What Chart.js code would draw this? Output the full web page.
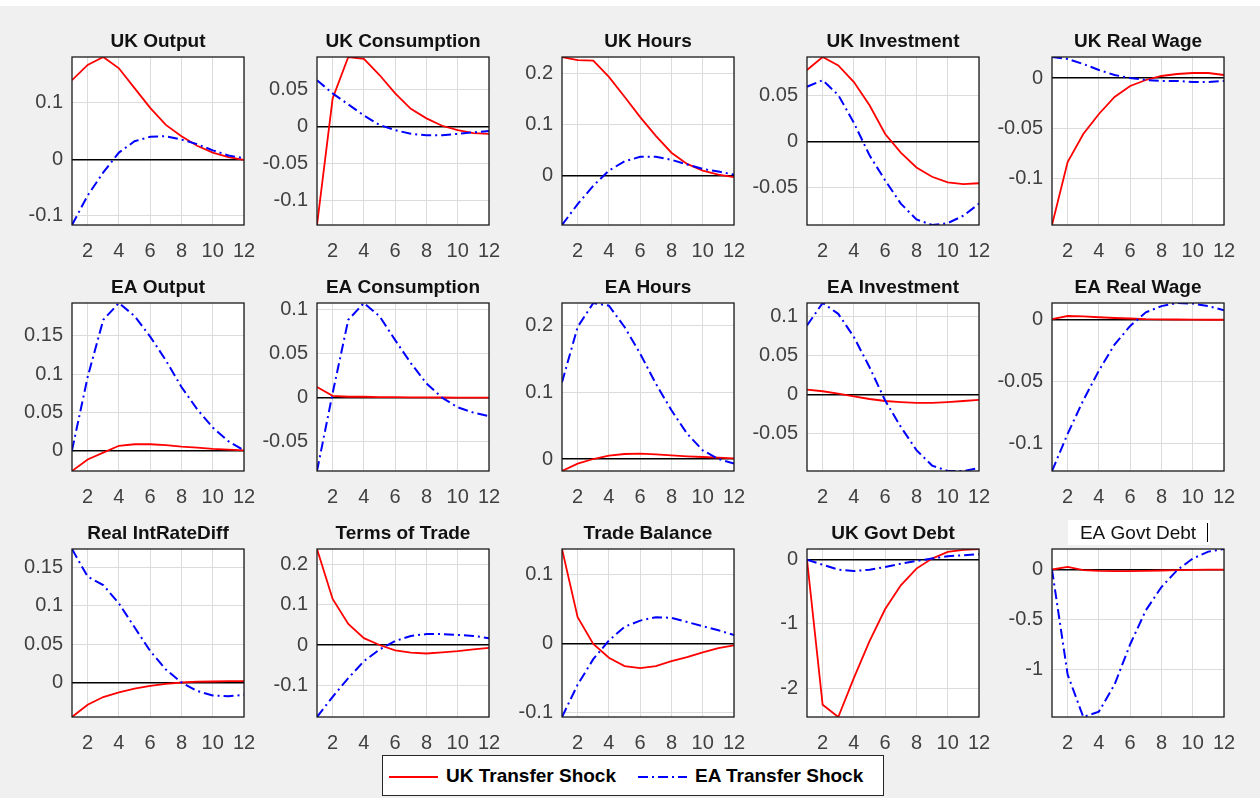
<!DOCTYPE html>
<html>
<head>
<meta charset="utf-8">
<script src="https://cdn.jsdelivr.net/npm/chart.js@4.4.1/dist/chart.umd.min.js"></script>
<style>
  body { margin: 0; background: #f0f0f0; width: 1260px; height: 798px; position: relative; overflow: hidden;
         font-family: "Liberation Sans", Arial, sans-serif; }
  #topstrip { position: absolute; left: 0; top: 0; width: 1260px; height: 6px; background: #fff; }
  canvas { position: absolute; }
  #legend { position: absolute; left: 382px; top: 755px; width: 500px; height: 39px; background: #fff;
            border: 1px solid #262626; font-size: 19px; font-weight: bold; color: #000; }
  #legend svg, #legend span { position: absolute; }
  #legend span { top: 9px; white-space: nowrap; }
</style>
</head>
<body>
<div id="topstrip"></div>
<div id="legend"></div>

<script>
/* --------------------------------------------------------------
   DATA  (impulse responses, periods 1..12)
   -------------------------------------------------------------- */
const periods = [1, 2, 3, 4, 5, 6, 7, 8, 9, 10, 11, 12];
const xTicks  = [2, 4, 6, 8, 10, 12];
const seriesNames = ['UK Transfer Shock', 'EA Transfer Shock'];

// uk = response to UK transfer shock (red), ea = response to EA transfer shock (blue)
const ukOutput_uk = [0.140, 0.167, 0.181, 0.161, 0.126, 0.091, 0.061, 0.041, 0.024, 0.012, 0.004, -0.001];
const ukOutput_ea = [-0.116, -0.064, -0.023, 0.012, 0.032, 0.040, 0.041, 0.035, 0.027, 0.016, 0.007, 0.002];

const ukCons_uk = [-0.134, 0.038, 0.0945, 0.092, 0.070, 0.045, 0.024, 0.011, 0.001, -0.005, -0.009, -0.010];
const ukCons_ea = [0.063, 0.045, 0.030, 0.015, 0.002, -0.005, -0.010, -0.012, -0.012, -0.010, -0.008, -0.006];

const ukHours_uk = [0.233, 0.227, 0.226, 0.194, 0.155, 0.115, 0.078, 0.045, 0.023, 0.010, 0.002, -0.003];
const ukHours_ea = [-0.097, -0.056, -0.020, 0.010, 0.028, 0.037, 0.037, 0.031, 0.022, 0.013, 0.008, 0.002];

const ukInv_uk = [0.077, 0.091, 0.082, 0.064, 0.039, 0.008, -0.012, -0.028, -0.038, -0.044, -0.046, -0.045];
const ukInv_ea = [0.059, 0.066, 0.050, 0.020, -0.015, -0.042, -0.067, -0.084, -0.090, -0.088, -0.080, -0.067];

const ukWage_uk = [-0.147, -0.084, -0.056, -0.036, -0.019, -0.008, -0.002, 0.002, 0.004, 0.005, 0.005, 0.003];
const ukWage_ea = [0.021, 0.019, 0.014, 0.008, 0.003, 0.000, -0.002, -0.003, -0.003, -0.004, -0.004, -0.003];

const eaOutput_uk = [-0.027, -0.012, -0.003, 0.006, 0.008, 0.008, 0.007, 0.005, 0.0035, 0.002, 0.001, 0];
const eaOutput_ea = [0, 0.096, 0.171, 0.193, 0.176, 0.149, 0.118, 0.083, 0.054, 0.030, 0.012, 0];

const eaCons_uk = [0.012, 0.002, 0.001, 0.001, 0.0005, 0.0005, 0.0003, 0.0002, 0.0001, 0, 0, 0];
const eaCons_ea = [-0.083, 0.005, 0.088, 0.107, 0.092, 0.065, 0.039, 0.016, 0, -0.011, -0.017, -0.021];

const eaHours_uk = [-0.018, -0.007, 0.0, 0.005, 0.0075, 0.008, 0.007, 0.0055, 0.004, 0.003, 0.002, 0.001];
const eaHours_ea = [0.115, 0.198, 0.234, 0.230, 0.198, 0.158, 0.113, 0.073, 0.038, 0.013, 0.0, -0.007];

const eaInv_uk = [0.006, 0.004, 0.001, -0.0025, -0.006, -0.0086, -0.010, -0.011, -0.011, -0.010, -0.0086, -0.007];
const eaInv_ea = [0.089, 0.118, 0.104, 0.074, 0.035, -0.008, -0.042, -0.072, -0.092, -0.099, -0.099, -0.095];

const eaWage_uk = [0.0005, 0.003, 0.0027, 0.002, 0.0014, 0.001, 0.0005, 0.0003, 0.0002, 0.0001, 0, 0];
const eaWage_ea = [-0.122, -0.092, -0.065, -0.041, -0.020, -0.005, 0.006, 0.011, 0.0135, 0.013, 0.011, 0.0076];

const rirDiff_uk = [-0.045, -0.029, -0.019, -0.013, -0.008, -0.0044, -0.0018, 0, 0.001, 0.0013, 0.0018, 0.0018];
const rirDiff_ea = [0.174, 0.138, 0.127, 0.103, 0.072, 0.041, 0.017, 0, -0.011, -0.017, -0.018, -0.016];

const tot_uk = [0.2375, 0.114, 0.052, 0.017, 0, -0.013, -0.019, -0.021, -0.018, -0.015, -0.011, -0.007];
const tot_ea = [-0.178, -0.128, -0.082, -0.040, -0.011, 0.010, 0.0225, 0.027, 0.027, 0.025, 0.0225, 0.017];

const tb_uk = [0.137, 0.038, -0.001, -0.021, -0.033, -0.036, -0.033, -0.026, -0.020, -0.013, -0.007, -0.003];
const tb_ea = [-0.107, -0.060, -0.023, 0.004, 0.024, 0.033, 0.038, 0.037, 0.031, 0.025, 0.019, 0.012];

const ukDebt_uk = [0, -2.26, -2.45, -1.84, -1.27, -0.77, -0.40, -0.14, 0.016, 0.12, 0.15, 0.165];
const ukDebt_ea = [0, -0.08, -0.157, -0.178, -0.157, -0.115, -0.063, -0.021, 0.016, 0.052, 0.068, 0.084];

const eaDebt_uk = [0, 0.027, -0.007, -0.014, -0.017, -0.017, -0.014, -0.010, -0.007, -0.003, 0, 0];
const eaDebt_ea = [0, -1.054, -1.48, -1.426, -1.155, -0.75, -0.41, -0.176, -0.007, 0.11, 0.18, 0.206];

const titles = ['UK Output', 'UK Consumption', 'UK Hours', 'UK Investment', 'UK Real Wage',
                'EA Output', 'EA Consumption', 'EA Hours', 'EA Investment', 'EA Real Wage',
                'Real IntRateDiff', 'Terms of Trade', 'Trade Balance', 'UK Govt Debt', 'EA Govt Debt'];

const yTicks = [
  [-0.1, 0, 0.1], [-0.1, -0.05, 0, 0.05], [0, 0.1, 0.2], [-0.05, 0, 0.05], [-0.1, -0.05, 0],
  [0, 0.05, 0.1, 0.15], [-0.05, 0, 0.05, 0.1], [0, 0.1, 0.2], [-0.05, 0, 0.05, 0.1], [-0.1, -0.05, 0],
  [0, 0.05, 0.1, 0.15], [-0.1, 0, 0.1, 0.2], [-0.1, 0, 0.1], [-2, -1, 0], [-1, -0.5, 0]
];

const ukSeries = [ukOutput_uk, ukCons_uk, ukHours_uk, ukInv_uk, ukWage_uk,
                  eaOutput_uk, eaCons_uk, eaHours_uk, eaInv_uk, eaWage_uk,
                  rirDiff_uk, tot_uk, tb_uk, ukDebt_uk, eaDebt_uk];
const eaSeries = [ukOutput_ea, ukCons_ea, ukHours_ea, ukInv_ea, ukWage_ea,
                  eaOutput_ea, eaCons_ea, eaHours_ea, eaInv_ea, eaWage_ea,
                  rirDiff_ea, tot_ea, tb_ea, ukDebt_ea, eaDebt_ea];

/* --------------------------------------------------------------
   LAYOUT / STYLE
   -------------------------------------------------------------- */
const FONT = '"Liberation Sans", Arial, sans-serif';
const RED = '#ff0000';
const BLUE = '#0000ff';
const DASHDOT = [10, 4, 2, 4];
const PAD_L = 70, PAD_T = 40, PAD_R = 16, PAD_B = 40;
const PLOT_W = 172, PLOT_H = 168;

// white plot box, black frame and title for each panel
function panelPlugin(title, boxed) {
  return {
    id: 'panelFrame',
    beforeDraw(chart) {
      const { ctx, chartArea: a } = chart;
      ctx.save();
      ctx.fillStyle = '#fff';
      ctx.fillRect(a.left, a.top, a.right - a.left, a.bottom - a.top);
      ctx.restore();
    },
    afterDraw(chart) {
      const { ctx, chartArea: a } = chart;
      ctx.save();
      ctx.strokeStyle = '#1a1a1a';
      ctx.lineWidth = 1.3;
      ctx.strokeRect(a.left, a.top, a.right - a.left, a.bottom - a.top);
      const cx = (a.left + a.right) / 2;
      if (boxed) {
        ctx.fillStyle = '#fff';
        ctx.fillRect(cx - 70, a.top - 29, 142, 25);
        ctx.font = '19px ' + FONT;
      } else {
        ctx.font = 'bold 19px ' + FONT;
      }
      ctx.fillStyle = '#111';
      ctx.textAlign = 'center';
      ctx.textBaseline = 'middle';
      ctx.fillText(title, cx, a.top - 15);
      if (boxed) {
        ctx.fillStyle = '#000';
        ctx.fillRect(cx + 69, a.top - 26, 1, 19);
      }
      ctx.restore();
    }
  };
}

/* --------------------------------------------------------------
   CHARTS
   -------------------------------------------------------------- */
titles.forEach((title, i) => {
  const r = Math.floor(i / 5), c = i % 5;
  const plotLeft = 72 + 245 * c;
  const plotTop = 57 + 246 * r;

  const cv = document.createElement('canvas');
  const w = PAD_L + PLOT_W + PAD_R, h = PAD_T + PLOT_H + PAD_B;
  cv.width = w; cv.height = h;
  cv.style.width = w + 'px'; cv.style.height = h + 'px';
  cv.style.left = (plotLeft - PAD_L) + 'px';
  cv.style.top = (plotTop - PAD_T) + 'px';
  document.body.appendChild(cv);

  const uk = ukSeries[i], ea = eaSeries[i];
  const all = uk.concat(ea);
  const gridColor = ctx => (ctx.tick && ctx.tick.value === 0) ? '#000' : '#dcdcdc';
  const gridWidth = ctx => (ctx.tick && ctx.tick.value === 0) ? 1.6 : 1;

  new Chart(cv, {
    type: 'line',
    data: {
      datasets: [
        { label: seriesNames[0], data: periods.map((p, k) => ({ x: p, y: uk[k] })),
          borderColor: RED, borderWidth: 1.8, pointRadius: 0, tension: 0, order: 1 },
        { label: seriesNames[1], data: periods.map((p, k) => ({ x: p, y: ea[k] })),
          borderColor: BLUE, borderWidth: 2, borderDash: DASHDOT, pointRadius: 0, tension: 0, order: 0 }
      ]
    },
    options: {
      responsive: false,
      animation: false,
      layout: { padding: { left: 0, top: PAD_T, right: PAD_R, bottom: 0 } },
      plugins: { legend: { display: false }, tooltip: { enabled: false } },
      scales: {
        x: {
          type: 'linear', min: 1, max: 12,
          afterBuildTicks: s => { s.ticks = xTicks.map(v => ({ value: v })); },
          // fixed axis height, and no extra side padding for the "12" label
          afterFit: s => { s.height = PAD_B; s.paddingLeft = 0; s.paddingRight = 0; },
          grid: { color: '#dcdcdc', drawTicks: false },
          border: { display: false },
          ticks: { autoSkip: false, maxRotation: 0, padding: 14, color: '#404040',
                   font: { size: 20, family: FONT }, callback: v => String(v) }
        },
        y: {
          type: 'linear', min: Math.min(...all), max: Math.max(...all), bounds: 'data',
          afterBuildTicks: s => { s.ticks = yTicks[i].map(v => ({ value: v })); },
          afterFit: s => { s.width = PAD_L; },
          grid: { color: gridColor, lineWidth: gridWidth, drawTicks: false },
          border: { display: false },
          ticks: { padding: 9, color: '#404040', font: { size: 20, family: FONT },
                   callback: v => String(v) }
        }
      }
    },
    plugins: [panelPlugin(title, i === 14)]
  });
});

/* --------------------------------------------------------------
   LEGEND
   -------------------------------------------------------------- */
const legendEl = document.getElementById('legend');
legendEl.innerHTML =
  `<svg style="left:6px;top:19px" width="50" height="4"><line x1="0" y1="2" x2="49" y2="2" stroke="${RED}" stroke-width="1.8"/></svg>` +
  `<span style="left:63px">${seriesNames[0]}</span>` +
  `<svg style="left:255px;top:19px" width="50" height="4"><line x1="0" y1="2" x2="49" y2="2" stroke="${BLUE}" stroke-width="2" stroke-dasharray="${DASHDOT.join(' ')}"/></svg>` +
  `<span style="left:312px">${seriesNames[1]}</span>`;
</script>
</body>
</html>
